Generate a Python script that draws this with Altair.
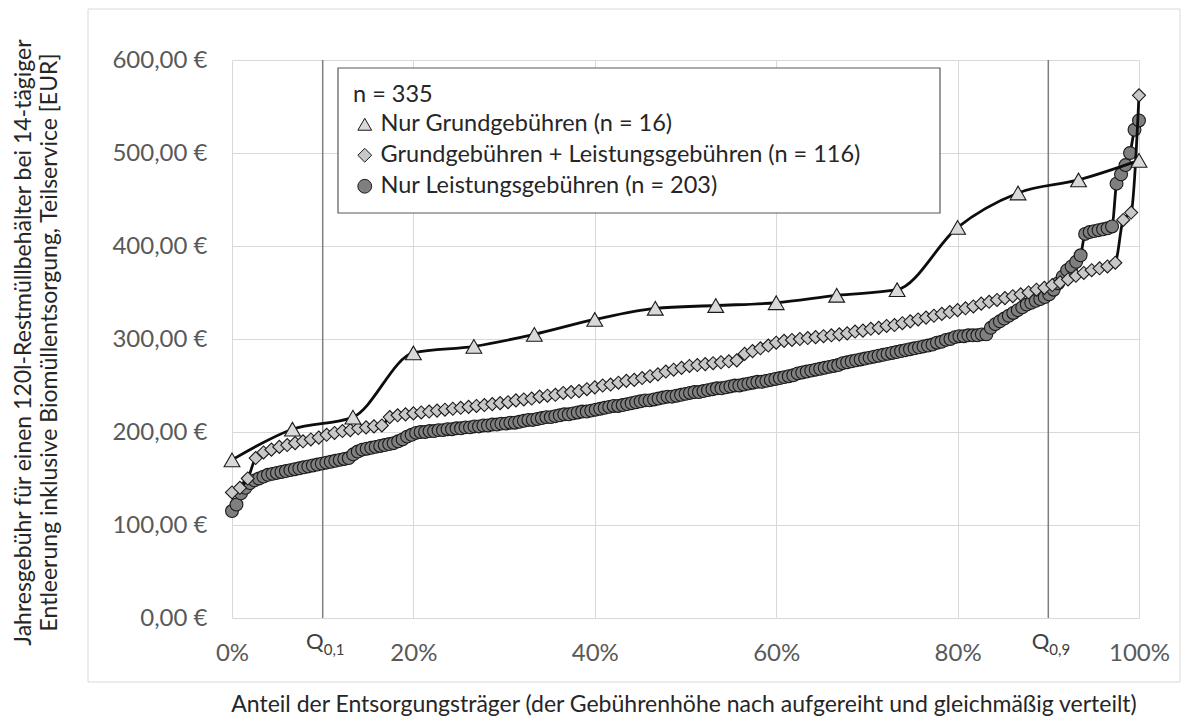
import altair as alt
import pandas as pd

# ---------------- data ----------------
series_names = [
    "Nur Grundgebühren (n = 16)",
    "Grundgebühren + Leistungsgebühren (n = 116)",
    "Nur Leistungsgebühren (n = 203)",
]
series_shapes = ["triangle-up", "diamond", "circle"]
series_fills = ["#d9d9d9", "#c8c8c8", "#7f7f7f"]
series_strokes = ["#1a1a1a", "#1a1a1a", "#1a1a1a"]

tri_vals = [170, 203, 216, 285, 292, 305, 321, 333, 336, 339, 347, 353, 420, 457, 471, 492]

dia_vals = [
    135, 140, 150, 172, 178, 181, 184, 186, 188, 190,
    192, 194, 197, 199, 201, 202, 204, 205, 206, 207,
    216, 218, 219, 220, 221, 222, 223, 224, 225, 226,
    227, 228, 229, 230, 231, 232, 234, 235, 236, 238,
    239, 240, 242, 243, 244, 246, 248, 250, 251, 253,
    255, 256, 258, 260, 262, 265, 267, 269, 271, 272,
    273, 274, 275, 276, 277, 284, 287, 290, 293, 296,
    298, 299, 300, 301, 302, 303, 304, 305, 306, 308,
    309, 311, 312, 314, 315, 317, 319, 321, 323, 325,
    327, 329, 331, 333, 335, 338, 340, 342, 344, 346,
    348, 350, 353, 355, 358, 361, 364, 368, 371, 374,
    376, 378, 382, 428, 436, 562,
]

cir_vals = [
    115, 122, 134, 140, 145, 148, 150, 152, 154, 155,
    156, 157, 158, 159, 160, 161, 162, 163, 164, 165,
    166, 167, 168, 169, 170, 171, 172, 176, 179, 181,
    182, 183, 184, 185, 186, 187, 188, 190, 192, 195,
    197, 199, 200, 200, 201, 201, 202, 202, 203, 203,
    204, 204, 205, 205, 206, 206, 207, 207, 208, 208,
    209, 209, 210, 210, 211, 212, 213, 213, 214, 215,
    216, 216, 217, 218, 219, 219, 220, 221, 222, 222,
    223, 224, 225, 226, 227, 228, 228, 229, 230, 231,
    232, 233, 234, 234, 235, 236, 237, 238, 238, 239,
    240, 241, 242, 243, 243, 244, 245, 246, 247, 247,
    248, 249, 250, 250, 251, 252, 253, 254, 254, 255,
    256, 257, 258, 259, 260, 261, 263, 264, 265, 266,
    267, 268, 269, 270, 271, 272, 274, 275, 276, 277,
    278, 279, 280, 281, 282, 283, 284, 285, 286, 287,
    288, 289, 290, 291, 292, 293, 294, 296, 297, 299,
    300, 302, 303, 303, 304, 304, 304, 305, 305, 312,
    316, 319, 322, 325, 328, 331, 334, 337, 339, 341,
    343, 345, 348, 353, 360, 367, 374, 378, 383, 390,
    413, 415, 416, 417, 418, 419, 421, 467, 477, 487,
    500, 525, 535,
]

x_ticks = [0, 0.2, 0.4, 0.6, 0.8, 1.0]
y_ticks = [0, 100, 200, 300, 400, 500, 600]
q_pos = [0.1, 0.9]
q_sub = ["0,1", "0,9"]

legend_title = "n = 335"
x_title = "Anteil der Entsorgungsträger (der Gebührenhöhe nach aufgereiht und gleichmäßig verteilt)"
y_title = [
    "Jahresgebühr für einen 120l-Restmüllbehälter bei 14-tägiger",
    "Entleerung inklusive Biomüllentsorgung, Teilservice [EUR]",
]

# ---------------- build table ----------------
rows = []
for name, vals in zip(series_names, [tri_vals, dia_vals, cir_vals]):
    n = len(vals)
    for i, v in enumerate(vals):
        rows.append({"series": name, "share": i / (n - 1), "fee": v, "rank": i})
df = pd.DataFrame(rows)
q_df = pd.DataFrame({"share": q_pos, "sub": q_sub})

W, H = 907, 558
FONT = "Lato"

x_scale = alt.Scale(domain=[0, 1], nice=False, zero=False)
y_scale = alt.Scale(domain=[0, 600], nice=False)

x_axis = alt.Axis(
    values=x_ticks, format=".0%", labelPadding=23, labelFlush=False, title=x_title,
    titleX=W / 2 - 2, titleY=86, titleBaseline="middle", titleAnchor="middle", titleFontSize=23,
)
x_enc = alt.X("share:Q", scale=x_scale, axis=x_axis)
y_enc = alt.Y(
    "fee:Q", scale=y_scale,
    axis=alt.Axis(
        values=y_ticks, labelPadding=25, labelFlush=False,
        labelExpr="replace(format(datum.value, '.2f'), '.', ',') + ' €'",
        title=y_title, titleAngle=270, titleX=-220, titleY=282, titleFontSize=23,
        titleBaseline="top", titleAlign="center", titleLineHeight=26,
    ),
)

legend = alt.Legend(
    title=legend_title, orient="none", legendX=106, legendY=8,
    padding=15,
    titleFontWeight="normal", titleFontSize=23.5, titleFont=FONT, titleColor="#262626",
    titlePadding=6, labelFont=FONT, labelFontSize=23.5, labelColor="#262626",
    labelOffset=4, labelLimit=0, rowPadding=6, symbolSize=190,
    symbolStrokeWidth=1,
)
fill_enc = alt.Fill("series:N", scale=alt.Scale(domain=series_names, range=series_fills), legend=legend)
shape_enc = alt.Shape("series:N", scale=alt.Scale(domain=series_names, range=series_shapes), legend=legend)
stroke_enc = alt.Stroke("series:N", scale=alt.Scale(domain=series_names, range=series_strokes), legend=legend)

one = pd.DataFrame({"k": [0]})
frame = alt.Chart(one).mark_rect(
    fillOpacity=0, stroke="#d9d9d9", strokeWidth=1
).encode(x=alt.value(-144), x2=alt.value(948), y=alt.value(-51), y2=alt.value(622))

# white box behind the legend (the reference legend frame is wider than its text)
legend_box = alt.Chart(one).mark_rect(
    fill="white", stroke="#595959", strokeWidth=1.2
).encode(x=alt.value(106), x2=alt.value(708), y=alt.value(8), y2=alt.value(153))

q_rules = alt.Chart(q_df).mark_rule(color="#7f7f7f", strokeWidth=1.5).encode(
    x=x_enc, y=alt.value(0), y2=alt.value(H)
)
q_main = alt.Chart(q_df).mark_text(
    align="right", baseline="alphabetic", font=FONT, fontSize=22, color="#404040", dx=1
).encode(x=x_enc, y=alt.value(H + 31), text=alt.value("Q"))
q_subs = alt.Chart(q_df).mark_text(
    align="left", baseline="alphabetic", font=FONT, fontSize=15, color="#404040", dx=1
).encode(x=x_enc, y=alt.value(H + 37), text="sub:N")

sizes = {series_names[0]: 250, series_names[1]: 170, series_names[2]: 165}
layers = [frame, q_rules, legend_box, q_main, q_subs]
for name in reversed(series_names):
    sub = df[df["series"] == name]
    line = alt.Chart(sub).mark_line(
        color="#0d0d0d", strokeWidth=2.8, interpolate="monotone"
    ).encode(x=x_enc, y=y_enc, order="rank:Q")
    pts = alt.Chart(sub).mark_point(
        filled=True, size=sizes[name], strokeWidth=1.1, opacity=1
    ).encode(x=x_enc, y=y_enc, fill=fill_enc, shape=shape_enc, stroke=stroke_enc)
    layers += [line, pts]

chart = alt.layer(*layers).properties(
    width=W, height=H,
    autosize=alt.AutoSizeParams(type="none"),
    padding={"left": 224, "top": 52, "right": 49, "bottom": 98},
).configure_view(stroke=None).configure_axis(
    grid=True, gridColor="#d9d9d9", gridWidth=1, domain=False, ticks=False, tickSize=0,
    labelFont=FONT, labelFontSize=24, labelColor="#595959",
    titleFont=FONT, titleColor="#262626", titleFontWeight="normal",
)

chart.save("out.html", embed_options={"renderer": "svg", "actions": False})
